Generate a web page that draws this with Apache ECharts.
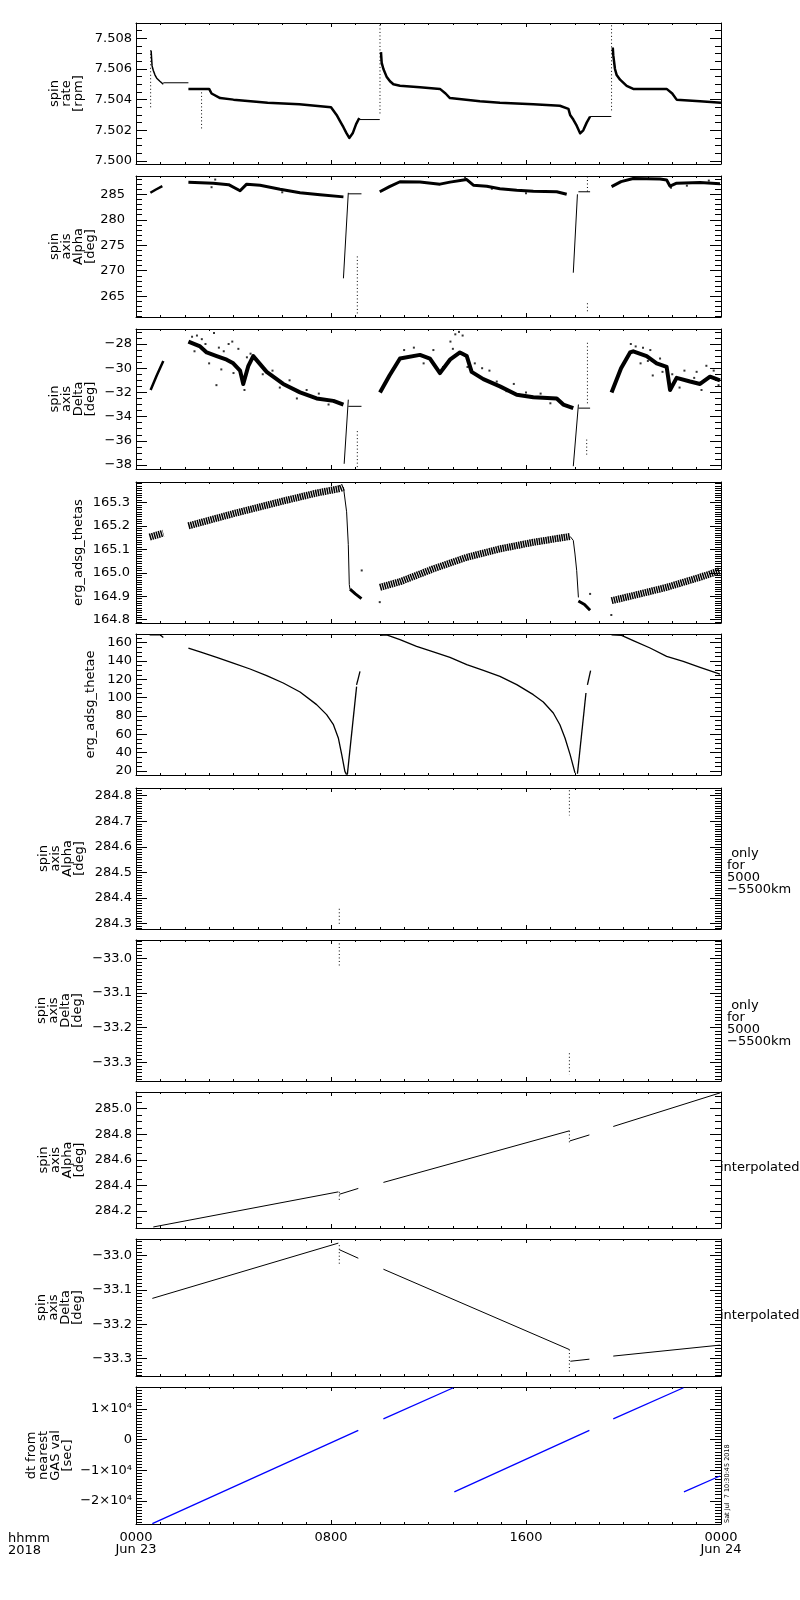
<!DOCTYPE html>
<html>
<head>
<meta charset="utf-8">
<script src="https://cdn.jsdelivr.net/npm/echarts@6/dist/echarts.min.js"></script>
<style>
  html, body { margin: 0; background: #fff; }
  #chart { width: 800px; height: 1600px; }
</style>
</head>
<body>
<div id="chart"></div>
<script>
// x axis: hours of Jun 23 2018
const xTickHours = [0, 8, 16, 24];
const xTickText = ['0000\nJun 23', '0800', '1600', '0000\nJun 24'];

// y tick labels
const rateTicks = [7.500, 7.502, 7.504, 7.506, 7.508];
const alphaTicks = [265, 270, 275, 280, 285];
const deltaTicks = [-38, -36, -34, -32, -30, -28];
const thetasTicks = [164.8, 164.9, 165.0, 165.1, 165.2, 165.3];
const thetaeTicks = [20, 40, 60, 80, 100, 120, 140, 160];
const alphaOnlyTicks = [284.3, 284.4, 284.5, 284.6, 284.7, 284.8];
const deltaOnlyTicks = [-33.3, -33.2, -33.1, -33.0];
const alphaIntTicks = [284.2, 284.4, 284.6, 284.8, 285.0];
const deltaIntTicks = [-33.3, -33.2, -33.1, -33.0];
const dtTicks = [-20000, -10000, 0, 10000];

// panel 1: spin rate [rpm]
const rateArc1 = [[0.62,7.5072],[0.66,7.5062],[0.71,7.5059],[0.78,7.5056],[0.85,7.5054],[0.98,7.5052],[1.12,7.5050]];
const rateFlat1 = [[1.12,7.5051],[2.15,7.5051]];
const rateBand1 = [[2.15,7.5047],[3.0,7.5047],[3.1,7.5044],[3.45,7.5041],[4.0,7.5040],[5.4,7.5038],[6.7,7.5037],[8.0,7.5035],[8.23,7.5030],[8.37,7.5026],[8.51,7.5022],[8.64,7.5018],[8.75,7.5015],[8.89,7.5018],[9.03,7.5024],[9.16,7.5028]];
const rateFlat2 = [[9.16,7.5027],[10.0,7.5027]];
const rateBand2 = [[10.05,7.5071],[10.08,7.5064],[10.15,7.5060],[10.28,7.5055],[10.42,7.5052],[10.56,7.5050],[10.83,7.5049],[11.65,7.5048],[12.47,7.5047],[12.7,7.5044],[12.88,7.5041],[14.11,7.5039],[14.93,7.5038],[16.3,7.5037],[17.39,7.5036],[17.74,7.5034],[17.81,7.5030],[17.94,7.5027],[18.08,7.5023],[18.22,7.5018],[18.35,7.5020],[18.49,7.5025],[18.63,7.5029]];
const rateFlat3 = [[18.63,7.5029],[19.5,7.5029]];
const rateBand3 = [[19.56,7.5074],[19.58,7.5069],[19.65,7.5060],[19.72,7.5056],[19.86,7.5053],[20.13,7.5049],[20.4,7.5047],[21.77,7.5047],[22.0,7.5044],[22.18,7.5040],[23.14,7.5039],[24,7.5038]];
const rateSpike1 = [[0.60,7.5035],[0.60,7.5073]];
const rateSpike2 = [[2.69,7.5047],[2.69,7.5021]];
const rateSpike3 = [[10.01,7.5031],[10.01,7.5089]];
const rateSpike4 = [[19.51,7.5033],[19.51,7.5089]];

// panel 2: spin axis Alpha [deg]
const alphaSeg1 = [[0.59,285.3],[0.8,285.9],[1.08,286.6]];
const alphaSeg2 = [[2.15,287.35],[3.17,287.16],[3.8,286.9],[4.27,285.7],[4.54,287.0],[5.09,286.8],[5.91,286.0],[6.73,285.3],[7.55,284.9],[8.51,284.5]];
const alphaDrop1 = [[8.51,268.5],[8.71,285.3]];
const alphaFlat1 = [[8.71,285.1],[9.25,285.1]];
const alphaDots1 = [[9.08,272.8],[9.08,261.2]];
const alphaSeg3 = [[10.0,285.5],[10.4,286.5],[10.83,287.47],[11.65,287.4],[12.47,287.0],[12.88,287.4],[13.57,287.9],[13.84,286.8],[14.39,286.6],[14.93,286.1],[15.62,285.8],[16.3,285.6],[17.26,285.5],[17.67,285.0]];
const alphaDrop2 = [[17.94,269.6],[18.11,285.0]];
const alphaFlat2 = [[18.15,285.5],[18.63,285.5]];
const alphaDots2a = [[18.52,288.5],[18.52,285.5]];
const alphaDots2b = [[18.52,263.6],[18.52,262.0]];
const alphaSeg4 = [[19.51,286.5],[19.9,287.5],[20.4,288.1],[21.5,288.0],[21.77,287.8],[21.91,286.6],[22.18,287.2],[23.14,287.3],[23.96,287.1]];
const alphaSpeckle = [[3.25,287.9],[3.1,286.4],[6.0,285.4],[13.5,288.3],[14.6,286.1],[16.0,285.2],[21.95,286.3],[23.5,287.7],[22.6,286.7]];

// panel 3: spin axis Delta [deg]
const deltaSeg1 = [[0.60,-31.8],[0.85,-30.6],[1.12,-29.4]];
const deltaSeg2 = [[2.15,-27.8],[2.63,-28.2],[2.9,-28.7],[3.31,-29.0],[3.72,-29.3],[3.99,-29.6],[4.27,-30.2],[4.40,-31.3],[4.61,-29.8],[4.81,-29.0],[5.36,-30.3],[6.04,-31.3],[6.73,-32.0],[7.41,-32.5],[8.1,-32.7],[8.51,-33.0]];
const deltaDrop1 = [[8.54,-37.9],[8.71,-32.6]];
const deltaFlat1 = [[8.71,-33.15],[9.25,-33.15]];
const deltaDots1 = [[9.08,-35.2],[9.08,-38.3]];
const deltaSeg3 = [[10.01,-32.0],[10.4,-30.6],[10.83,-29.2],[11.65,-28.9],[12.06,-29.2],[12.47,-30.4],[12.88,-29.3],[13.29,-28.7],[13.57,-29.0],[13.77,-30.3],[14.25,-30.9],[14.93,-31.5],[15.62,-32.2],[16.3,-32.4],[17.26,-32.5],[17.53,-33.0],[17.94,-33.3]];
const deltaDrop2 = [[17.94,-38.1],[18.15,-33.0]];
const deltaFlat2 = [[18.15,-33.3],[18.63,-33.3]];
const deltaDots2a = [[18.52,-27.9],[18.52,-32.9]];
const deltaDots2b = [[18.49,-35.9],[18.49,-37.3]];
const deltaSeg4 = [[19.51,-32.0],[19.9,-30.0],[20.27,-28.7],[20.4,-28.6],[20.95,-29.0],[21.36,-29.6],[21.77,-29.9],[21.91,-31.8],[22.18,-30.8],[22.73,-31.1],[23.14,-31.3],[23.55,-30.7],[23.96,-31.0]];
const deltaSpeckle = [
  [2.3,-27.4],[2.5,-27.3],[2.7,-27.6],[2.85,-28.0],[3.0,-29.6],[3.2,-27.1],[3.4,-28.3],[3.3,-31.4],[3.6,-28.6],[3.8,-28.0],
  [3.95,-27.8],[4.1,-29.9],[4.2,-28.4],[4.35,-30.6],[4.55,-29.1],[4.7,-28.8],[5.0,-29.4],[5.2,-30.5],[5.6,-30.2],[5.9,-31.6],
  [6.3,-31.0],[6.6,-32.5],[7.0,-31.8],[7.5,-32.1],[7.9,-33.0],[2.4,-28.6],[3.1,-28.9],[3.5,-30.1],[4.0,-30.4],[4.45,-31.8],
  [11.0,-28.5],[11.4,-28.3],[11.8,-29.6],[12.2,-28.5],[12.9,-27.8],[13.1,-27.2],[13.25,-27.0],[13.4,-27.3],[13.6,-29.9],[13.9,-29.6],
  [14.2,-30.0],[14.5,-30.2],[14.8,-31.1],[15.2,-31.9],[15.5,-31.3],[16.0,-32.0],[16.6,-32.1],[17.0,-32.9],[12.6,-29.9],[13.0,-28.4],
  [20.3,-28.0],[20.5,-28.2],[20.8,-28.3],[21.1,-28.5],[21.2,-30.6],[21.5,-29.2],[21.6,-30.3],[22.0,-30.5],[22.3,-31.6],[22.5,-30.2],
  [22.9,-30.8],[23.2,-31.8],[23.4,-29.8],[23.7,-30.2],[23.9,-31.4],[20.7,-29.6],[21.0,-29.4],[23.0,-30.3]
];

// panel 4: erg_adsg_thetas
const thetasSeg1 = [[0.56,165.152],[1.12,165.169]];
const thetasSeg2 = [[2.15,165.200],[3.99,165.252],[6.04,165.306],[7.41,165.340],[8.37,165.359],[8.51,165.365]];
const thetasDrop1 = [[8.51,165.365],[8.64,165.26],[8.71,165.12],[8.75,164.95],[8.78,164.93]];
const thetasTail1 = [[8.78,164.93],[9.0,164.91],[9.25,164.89]];
const thetasSeg3 = [[10.01,164.938],[10.83,164.962],[12.2,165.017],[13.57,165.066],[14.93,165.102],[16.3,165.130],[17.81,165.155]];
const thetasDrop2 = [[17.81,165.155],[17.94,165.138],[18.01,165.08],[18.08,165.009],[18.15,164.895]];
const thetasTail2 = [[18.15,164.88],[18.4,164.865],[18.63,164.84]];
const thetasSeg4 = [[19.51,164.881],[20.4,164.903],[21.77,164.938],[23.14,164.981],[23.96,165.009]];
const thetasSpeckle = [[9.26,165.01],[18.63,164.91],[10.0,164.875],[19.5,164.82]];

// panel 5: erg_adsg_thetae
const thetaeSeg1 = [[0.56,168.7],[1.0,168.5],[1.12,165.8]];
const thetaeSeg2 = [[2.15,154.2],[2.63,149.9],[3.31,144.0],[3.99,137.8],[4.68,131.3],[5.36,124.0],[6.04,116.0],[6.73,106.2],[7.41,92.4],[7.82,81.5],[8.1,70.5],[8.30,56.0],[8.44,37.8],[8.57,19.6],[8.64,16.0]];
const thetaeRise1 = [[8.67,16.0],[9.05,112.0]];
const thetaeRise1b = [[9.05,114.0],[9.19,128.7]];
const thetaeSeg3 = [[10.01,168.0],[10.28,168.5],[10.83,163.3],[11.51,156.0],[12.2,149.9],[12.88,144.0],[13.57,136.0],[14.25,129.8],[14.93,123.3],[15.62,114.2],[16.3,103.3],[16.71,95.3],[17.12,83.3],[17.39,70.5],[17.6,56.0],[17.81,37.8],[18.01,17.9]];
const thetaeRise2 = [[18.11,17.0],[18.46,105.1]];
const thetaeRise2b = [[18.52,114.0],[18.65,129.5]];
const thetaeSeg4 = [[19.51,168.7],[19.92,168.0],[20.4,162.2],[21.09,154.2],[21.77,145.1],[22.45,139.6],[23.14,133.1],[23.96,125.8]];

// panel 6 / 7: only for 5000-5500km
const alphaOnlyA = [[8.34,284.358],[8.34,284.292]];
const alphaOnlyB = [[17.78,284.821],[17.78,284.723]];
const deltaOnlyA = [[8.34,-32.957],[8.34,-33.027]];
const deltaOnlyB = [[17.78,-33.274],[17.78,-33.335]];

// panel 8: interpolated Alpha
const alphaIntA = [[0.71,284.074],[8.30,284.349]];
const alphaIntDots1 = [[8.34,284.349],[8.34,284.28]];
const alphaIntB = [[8.34,284.330],[9.12,284.376]];
const alphaIntC = [[10.15,284.423],[17.78,284.827]];
const alphaIntDots2 = [[17.78,284.827],[17.78,284.72]];
const alphaIntD = [[17.80,284.748],[18.6,284.795]];
const alphaIntE = [[19.58,284.861],[23.96,285.124]];

// panel 9: interpolated Delta
const deltaIntA = [[0.67,-33.125],[8.30,-32.964]];
const deltaIntDots1 = [[8.34,-32.97],[8.34,-33.027]];
const deltaIntB = [[8.34,-32.983],[9.12,-33.008]];
const deltaIntC = [[10.15,-33.040],[17.78,-33.274]];
const deltaIntDots2 = [[17.78,-33.274],[17.78,-33.34]];
const deltaIntD = [[17.82,-33.308],[18.6,-33.302]];
const deltaIntE = [[19.58,-33.293],[23.96,-33.261]];

// panel 10: dt from nearest GAS val [sec]
const dtA = [[0.67,-27410],[9.12,2950]];
const dtB = [[10.15,6690],[13.02,16850]];
const dtC = [[13.06,-17050],[18.6,2950]];
const dtD = [[19.58,6690],[22.46,16850]];
const dtE = [[22.48,-17050],[23.96,-11900]];

const FONT = 'DejaVu Sans';
const BLUE = '#0000ff';

function signed(v, d) {
  const s = Math.abs(v).toFixed(d);
  return v < 0 ? '\u2212' + s : s;
}
function dtLabel(v) {
  if (v === 0) return '0';
  return (v < 0 ? '\u2212' : '') + Math.abs(v / 10000) + '\u00d710\u2074';
}
function minorValues(min, max, step) {
  const out = [];
  for (let k = Math.ceil(min / step - 1e-9); k * step <= max + 1e-12; k++) {
    out.push(+(k * step).toFixed(6));
  }
  return out;
}

// lines: [data, width, dash], dots: dotted verticals, pts: speckles
const panels = [
  { top: 23, height: 141, min: 7.4998, max: 7.5090, ticks: rateTicks, step: 0.0005,
    fmt: v => v.toFixed(3), name: 'spin\nrate\n[rpm]', nameGap: 51, margin: 4,
    lines: [[rateArc1, 1.5], [rateFlat1, 1], [rateBand1, 2.5], [rateFlat2, 1], [rateBand2, 2.5], [rateFlat3, 1], [rateBand3, 2.5]],
    dots: [rateSpike1, rateSpike2, rateSpike3, rateSpike4] },
  { top: 176, height: 141, min: 260.9, max: 288.6, ticks: alphaTicks, step: 1,
    fmt: v => v.toFixed(0), name: 'spin\naxis\nAlpha\n[deg]', nameGap: 39, margin: 11,
    lines: [[alphaSeg1, 2.5], [alphaSeg2, 3], [alphaDrop1, 1], [alphaFlat1, 1], [alphaSeg3, 3], [alphaDrop2, 1], [alphaFlat2, 1], [alphaSeg4, 3]],
    dots: [alphaDots1, alphaDots2a, alphaDots2b], pts: alphaSpeckle },
  { top: 329, height: 140, min: -38.33, max: -26.76, ticks: deltaTicks, step: 0.5,
    fmt: v => signed(v, 0), name: 'spin\naxis\nDelta\n[deg]', nameGap: 39, margin: 4,
    lines: [[deltaSeg1, 2.5], [deltaSeg2, 4], [deltaDrop1, 1], [deltaFlat1, 1], [deltaSeg3, 4], [deltaDrop2, 1], [deltaFlat2, 1], [deltaSeg4, 4]],
    dots: [deltaDots1, deltaDots2a, deltaDots2b], pts: deltaSpeckle },
  { top: 482, height: 141, min: 164.786, max: 165.387, ticks: thetasTicks, step: 0.01,
    fmt: v => v.toFixed(1), name: 'erg_adsg_thetas', nameGap: 51, margin: 6,
    lines: [[thetasSeg1, 7, [1.5, 0.8]], [thetasSeg2, 7, [1.5, 0.8]], [thetasDrop1, 1], [thetasTail1, 3], [thetasSeg3, 7, [1.5, 0.8]], [thetasDrop2, 1], [thetasTail2, 3], [thetasSeg4, 7, [1.5, 0.8]]],
    dots: [], pts: thetasSpeckle },
  { top: 634, height: 141, min: 15.6, max: 169.5, ticks: thetaeTicks, step: 5,
    fmt: v => v.toFixed(0), name: 'erg_adsg_thetae', nameGap: 39, margin: 4,
    lines: [[thetaeSeg1, 1.3], [thetaeSeg2, 1.3], [thetaeRise1, 1.3], [thetaeRise1b, 1.3], [thetaeSeg3, 1.3], [thetaeRise2, 1.3], [thetaeRise2b, 1.3], [thetaeSeg4, 1.3]],
    dots: [] },
  { top: 788, height: 141, min: 284.279, max: 284.830, ticks: alphaOnlyTicks, step: 0.01,
    fmt: v => v.toFixed(1), name: 'spin\naxis\nAlpha\n[deg]', nameGap: 50, margin: 4,
    lines: [], dots: [alphaOnlyA, alphaOnlyB] },
  { top: 940, height: 141, min: -33.354, max: -32.947, ticks: deltaOnlyTicks, step: 0.01,
    fmt: v => signed(v, 1), name: 'spin\naxis\nDelta\n[deg]', nameGap: 52, margin: 4,
    lines: [], dots: [deltaOnlyA, deltaOnlyB] },
  { top: 1092, height: 136, min: 284.066, max: 285.131, ticks: alphaIntTicks, step: 0.05,
    fmt: v => v.toFixed(1), name: 'spin\naxis\nAlpha\n[deg]', nameGap: 50, margin: 4,
    lines: [[alphaIntA, 1], [alphaIntB, 1], [alphaIntC, 1], [alphaIntD, 1], [alphaIntE, 1]],
    dots: [alphaIntDots1, alphaIntDots2] },
  { top: 1239, height: 137, min: -33.351, max: -32.952, ticks: deltaIntTicks, step: 0.01,
    fmt: v => signed(v, 1), name: 'spin\naxis\nDelta\n[deg]', nameGap: 52, margin: 4,
    lines: [[deltaIntA, 1], [deltaIntB, 1], [deltaIntC, 1], [deltaIntD, 1], [deltaIntE, 1]],
    dots: [deltaIntDots1, deltaIntDots2] },
  { top: 1387, height: 137, min: -27540, max: 17100, ticks: dtTicks, step: 1000,
    fmt: dtLabel, name: 'dt from\nnearest\nGAS val\n[sec]', nameGap: 62, margin: 4,
    lines: [[dtA, 1.3], [dtB, 1.3], [dtC, 1.3], [dtD, 1.3], [dtE, 1.3]], color: BLUE,
    dots: [] }
];

const chart = echarts.init(document.getElementById('chart'), null, { renderer: 'canvas' });

const grid = [], xAxis = [], yAxis = [], series = [];
const textStyle = { color: '#000', fontFamily: FONT, fontSize: 13 };

panels.forEach((p, i) => {
  grid.push({ left: 136, right: 79, top: p.top, height: p.height, outerBoundsMode: 'none' });
  const last = i === panels.length - 1;
  ['bottom', 'top'].forEach(pos => {
    xAxis.push({
      gridIndex: i, type: 'value', position: pos, min: 0, max: 24, interval: 8,
      axisLine: { show: true, onZero: false, lineStyle: { color: '#000', width: 1 } },
      axisTick: { show: true, inside: true, length: 4, lineStyle: { color: '#000' } },
      minorTick: { show: true, splitNumber: 8, length: 2, lineStyle: { color: '#000' } },
      axisLabel: {
        show: last && pos === 'bottom', margin: 8, ...textStyle, lineHeight: 12,
        showMinLabel: true, showMaxLabel: true,
        formatter: v => xTickText[xTickHours.indexOf(v)] || ''
      },
      splitLine: { show: false }, minorSplitLine: { show: false }
    });
  });
  const minors = minorValues(p.min, p.max, p.step);
  ['left', 'right'].forEach(pos => {
    yAxis.push({
      gridIndex: i, type: 'value', position: pos, min: p.min, max: p.max,
      axisLine: { show: true, onZero: false, lineStyle: { color: '#000', width: 1 } },
      axisTick: { show: true, inside: true, length: 11, customValues: p.ticks, lineStyle: { color: '#000' } },
      axisLabel: { show: pos === 'left', customValues: p.ticks, formatter: p.fmt, margin: p.margin, ...textStyle },
      splitLine: { show: false },
      name: pos === 'left' ? p.name : '', nameLocation: 'middle', nameRotate: 90, nameGap: p.nameGap,
      nameMoveOverlap: false,
      nameTextStyle: { ...textStyle, lineHeight: 12, align: 'center' }
    });
    yAxis.push({
      gridIndex: i, type: 'value', position: pos, min: p.min, max: p.max,
      axisLine: { show: false, onZero: false },
      axisTick: { show: true, inside: true, length: 6, customValues: minors, lineStyle: { color: '#000' } },
      axisLabel: { show: false },
      splitLine: { show: false }
    });
  });
  const xi = i * 2, yi = i * 4;
  const color = p.color || '#000';
  p.lines.forEach(([data, w, dash]) => {
    series.push({
      type: 'line', xAxisIndex: xi, yAxisIndex: yi, data, symbol: 'none',
      lineStyle: { color, width: w, cap: 'butt', join: 'round', type: dash || 'solid' }, silent: true
    });
  });
  p.dots.forEach(data => {
    series.push({
      type: 'line', xAxisIndex: xi, yAxisIndex: yi, data, symbol: 'none',
      lineStyle: { color, width: 1, type: [1, 2.5] }, silent: true
    });
  });
  if (p.pts) {
    series.push({
      type: 'scatter', xAxisIndex: xi, yAxisIndex: yi, data: p.pts, symbol: 'rect',
      symbolSize: 2, itemStyle: { color }, silent: true
    });
  }
});

const graphic = [
  { type: 'text', left: 8, top: 1532, style: { text: 'hhmm\n2018', fill: '#000', font: '13px "DejaVu Sans"', lineHeight: 12 } },
  { type: 'text', x: 727, y: 848, style: { text: ' only\nfor\n5000\n\u22125500km', fill: '#000', font: '13px "DejaVu Sans"', lineHeight: 12 } },
  { type: 'text', x: 727, y: 1000, style: { text: ' only\nfor\n5000\n\u22125500km', fill: '#000', font: '13px "DejaVu Sans"', lineHeight: 12 } },
  { type: 'text', x: 720, y: 1168, style: { text: 'interpolated', fill: '#000', font: '13px "DejaVu Sans"', verticalAlign: 'middle' } },
  { type: 'text', x: 720, y: 1316, style: { text: 'interpolated', fill: '#000', font: '13px "DejaVu Sans"', verticalAlign: 'middle' } },
  { type: 'text', x: 731, y: 1523, rotation: Math.PI / 2,
    style: { text: 'Sat Jul  7 10:30:45 2018', fill: '#000', font: '6.5px "DejaVu Sans"', align: 'left', verticalAlign: 'bottom' } }
];

chart.setOption({
  backgroundColor: '#fff',
  animation: false,
  grid, xAxis, yAxis, series, graphic
});
</script>
</body>
</html>
